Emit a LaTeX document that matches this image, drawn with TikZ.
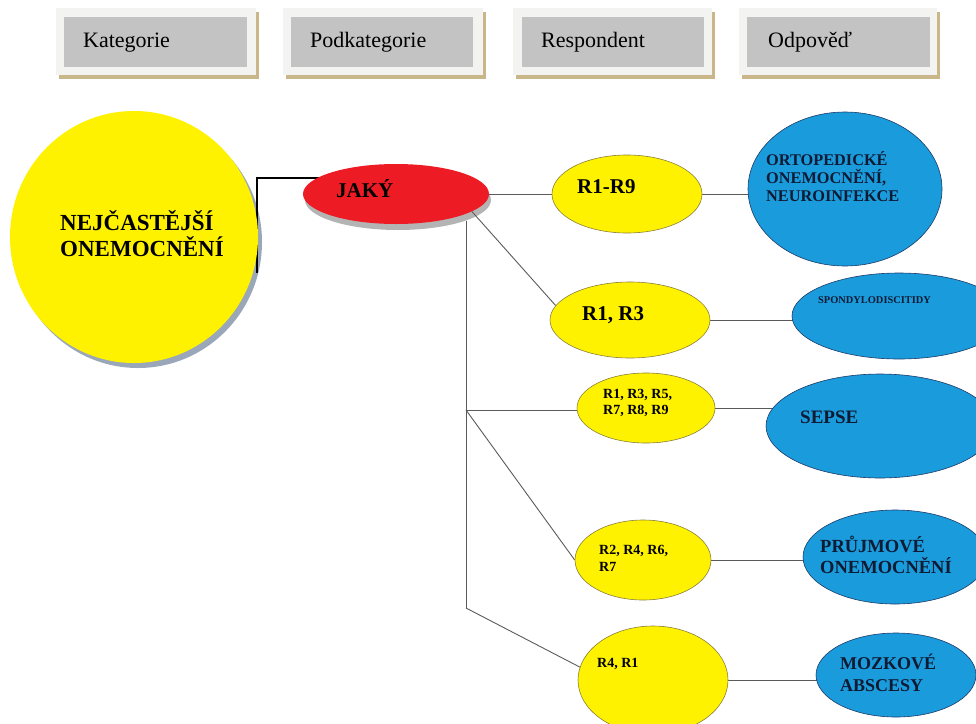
\documentclass[tikz,border=0pt]{standalone}
\usepackage{fontspec}
\setmainfont{Liberation Serif}
\usetikzlibrary{shapes.geometric,backgrounds}
\definecolor{yel}{HTML}{FFF200}
\definecolor{yelline}{HTML}{8A7F3A}
\definecolor{redf}{HTML}{ED1C24}
\definecolor{bluef}{HTML}{1A9BDC}
\definecolor{blueline}{HTML}{1E3A66}
\definecolor{navytext}{HTML}{0F1A33}
\definecolor{boxlight}{HTML}{F3F3F1}
\definecolor{boxgray}{HTML}{C3C3C3}
\definecolor{tanshadow}{HTML}{C9B78A}
\definecolor{circshadow}{HTML}{9AA7B8}
\definecolor{ellshadow}{HTML}{B4B4B4}
\definecolor{conn}{HTML}{5A5A5A}
\begin{document}
\begin{tikzpicture}[x=1pt,y=-1pt,
  outerbox/.style={rectangle, fill=boxlight, inner sep=0, minimum height=67},
  innerbox/.style={rectangle, fill=boxgray, inner sep=0, minimum height=50},
  hdrtxt/.style={anchor=base west, inner sep=0, font=\fontsize{22}{26}\selectfont},
  yelnode/.style={ellipse, fill=yel, draw=yelline, line width=0.6, inner sep=0},
  bluenode/.style={ellipse, fill=bluef, draw=blueline, line width=0.6, inner sep=0},
  btxt/.style={anchor=base west, inner sep=0, align=left, text=black},
  ntxt/.style={anchor=base west, inner sep=0, align=left, text=navytext},
  connector/.style={draw=conn, line width=0.9}
]
\useasboundingbox (0,0) rectangle (976,723);
\clip (0,0) rectangle (976,723);

% ---------- header boxes ----------
\fill[tanshadow] (59,12) rectangle (259,79);
\fill[tanshadow] (286,12) rectangle (486,79);
\fill[tanshadow] (516,12) rectangle (715,79);
\fill[tanshadow] (742,12) rectangle (940,79);
\node[outerbox, minimum width=200] (h1o) at (156,41.5) {};
\node[outerbox, minimum width=200] (h2o) at (383,41.5) {};
\node[outerbox, minimum width=199] (h3o) at (612.5,41.5) {};
\node[outerbox, minimum width=198] (h4o) at (838,41.5) {};
\node[innerbox, minimum width=183] (h1) at (155.5,42) {};
\node[innerbox, minimum width=182] (h2) at (382,42) {};
\node[innerbox, minimum width=182] (h3) at (613,42) {};
\node[innerbox, minimum width=183] (h4) at (838.5,42) {};
\node[hdrtxt] (t1) at (83,47) {Kategorie};
\node[hdrtxt] (t2) at (310,47) {Podkategorie};
\node[hdrtxt] (t3) at (541,47) {Respondent};
\node[hdrtxt] (t4) at (768,47) {Odpověď};

% ---------- nodes ----------
\node[ellipse, fill=yel, inner sep=0, minimum width=248, minimum height=252] (main) at (134,237) {};
\node[ellipse, fill=redf, inner sep=0, minimum width=186, minimum height=60] (jaky) at (396,194) {};

\node[yelnode, minimum width=150, minimum height=78] (r19) at (627,194) {};
\node[yelnode, minimum width=160, minimum height=76] (r13) at (630,320) {};
\node[yelnode, minimum width=138, minimum height=70] (r135) at (646,408) {};
\node[yelnode, minimum width=136, minimum height=80] (r246) at (643,560) {};
\node[yelnode, minimum width=150, minimum height=108] (r41) at (653,680) {};

\node[bluenode, minimum width=194, minimum height=154] (b1) at (845,189) {};
\node[bluenode, minimum width=214, minimum height=86] (b2) at (899,316) {};
\node[bluenode, minimum width=228, minimum height=104] (b3) at (880,426) {};
\node[bluenode, minimum width=184, minimum height=94] (b4) at (895,557) {};
\node[bluenode, minimum width=160, minimum height=84] (b5) at (896,675) {};

% ---------- texts (base = last line) ----------
\node[btxt, font=\bfseries\fontsize{23}{26}\selectfont] (tmain) at (60,256) {NEJČASTĚJŠÍ\\ONEMOCNĚNÍ};
\node[btxt, font=\bfseries\fontsize{21}{24}\selectfont] (tjaky) at (336,197) {JAKÝ};
\node[btxt, font=\bfseries\fontsize{21}{24}\selectfont] (tr19) at (577,193) {R1-R9};
\node[btxt, font=\bfseries\fontsize{21}{24}\selectfont] (tr13) at (582,320) {R1, R3};
\node[btxt, font=\bfseries\fontsize{14}{16}\selectfont] (tr135) at (603,414) {R1, R3, R5,\\R7, R8, R9};
\node[btxt, font=\bfseries\fontsize{14}{17}\selectfont] (tr246) at (599,571) {R2, R4, R6,\\R7};
\node[btxt, font=\bfseries\fontsize{14}{17}\selectfont] (tr41) at (597,667) {R4, R1};
\node[ntxt, font=\bfseries\fontsize{16.3}{18}\selectfont] (tb1) at (766,201) {ORTOPEDICKÉ\\ONEMOCNĚNÍ,\\NEUROINFEKCE};
\node[ntxt, font=\bfseries\fontsize{10.4}{12}\selectfont] (tb2) at (818,303) {SPONDYLODISCITIDY};
\node[ntxt, font=\bfseries\fontsize{19}{22}\selectfont] (tb3) at (800,423) {SEPSE};
\node[ntxt, font=\bfseries\fontsize{18.5}{20.5}\selectfont] (tb4) at (820,573) {PRŮJMOVÉ\\ONEMOCNĚNÍ};
\node[ntxt, font=\bfseries\fontsize{18}{21.5}\selectfont] (tb5) at (840,691) {MOZKOVÉ\\ABSCESY};

% ---------- shadows and connectors ----------
\coordinate (cstart) at (257,273);
\coordinate (celbow) at (257,178);
\coordinate (tTop) at (466,221);
\coordinate (tA) at (466,410);
\coordinate (tB) at (466,608);
\begin{scope}[on background layer]
  \fill[circshadow] (138,242) ellipse [x radius=124, y radius=126];
  \fill[ellshadow] (398,200) ellipse [x radius=93, y radius=30];
  \draw[black, line width=1.8] (cstart) -- (celbow) -- (celbow -| jaky.center);
  \draw[connector] (jaky.east) -- (r19.west);
  \draw[connector] (jaky.-13) -- (r13.169);
  \draw[connector] (tTop) -- (tB);
  \draw[connector] (tA) -- (tA -| r135.west);
  \draw[connector] (tA) -- (r246.west);
  \draw[connector] (tB) -- (r41.170);
  \draw[connector] (r19.east) -- (r19.east -| b1.center);
  \draw[connector] (r13.east) -- (r13.east -| b2.center);
  \draw[connector] (r135.east) -- (r135.east -| b3.center);
  \draw[connector] (r246.east) -- (r246.east -| b4.center);
  \draw[connector] (r41.east) -- (r41.east -| b5.center);
\end{scope}
\end{tikzpicture}
\end{document}
